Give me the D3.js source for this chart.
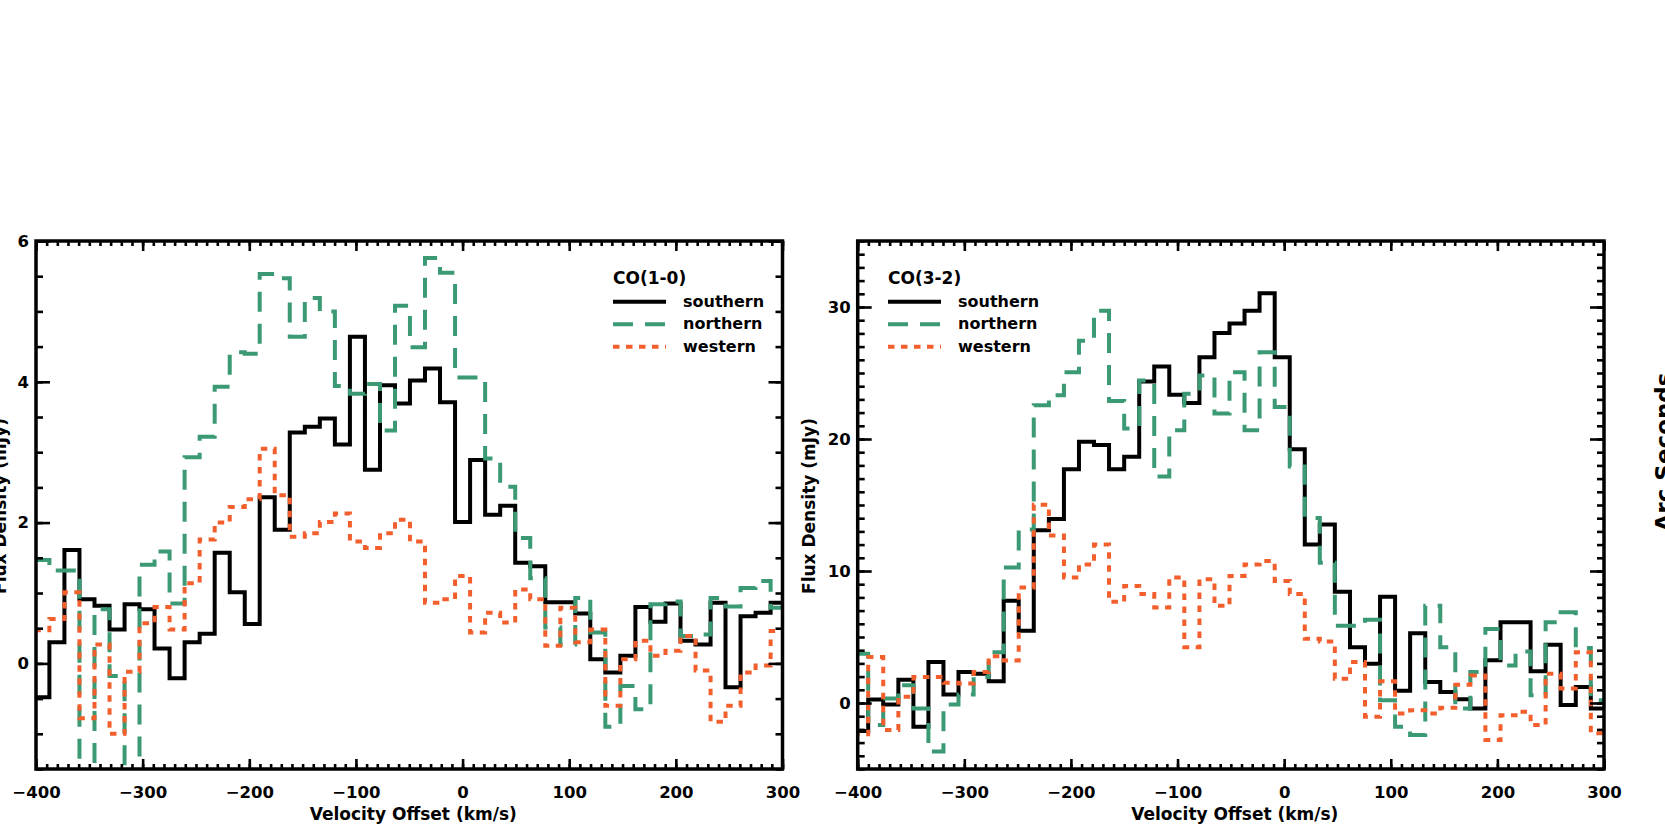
<!DOCTYPE html>
<html><head><meta charset="utf-8">
<script src="https://cdn.jsdelivr.net/npm/d3@7"></script>
<style>
html,body{margin:0;padding:0;background:#fff;}
svg{display:block;background:#fff;}
text{font-family:"DejaVu Sans",sans-serif;font-weight:bold;fill:#000;}
.tick text{font-size:16.5px;}
.legend text{font-size:16px;}
.legend text.ltitle{font-size:17px;}
.atitle{font-size:17px;}
.side{font-size:23px;}
</style></head><body>
<svg id="chart" width="1665" height="831"></svg>
<script>
// ---------- DATA ----------
const seriesNames = ["southern", "northern", "western"];
const panelTitles = ["CO(1-0)", "CO(3-2)"];
const xTicks = [-400, -300, -200, -100, 0, 100, 200, 300];
const yTicksCO10 = [0, 2, 4, 6];
const yTicksCO32 = [0, 10, 20, 30];

// CO(1-0): channel centres (km/s) and flux densities (mJy)
const binWidthCO10 = 14.09;
const velCO10 = [-394.5,-380.4,-366.3,-352.2,-338.1,-324.0,-309.9,-295.9,-281.8,-267.7,
  -253.6,-239.5,-225.4,-211.3,-197.2,-183.2,-169.1,-155.0,-140.9,-126.8,
  -112.7,-98.6,-84.5,-70.4,-56.3,-42.3,-28.2,-14.1,0.0,14.1,
  28.2,42.3,56.4,70.5,84.6,98.7,112.7,126.8,140.9,155.0,
  169.1,183.2,197.3,211.4,225.5,239.6,253.6,267.7,281.8,295.9];
const southernCO10 = [-0.48,0.30,1.61,0.91,0.82,0.48,0.84,0.77,0.21,-0.21,
  0.30,0.42,1.57,1.01,0.56,2.36,1.90,3.28,3.36,3.48,
  3.11,4.64,2.75,3.95,3.69,4.02,4.19,3.71,2.01,2.89,
  2.11,2.24,1.43,1.38,0.87,0.87,0.71,0.06,-0.13,0.11,
  0.80,0.59,0.85,0.32,0.27,0.86,-0.34,0.67,0.72,0.86];
const northernCO10 = [1.47,1.32,1.32,-2.5,0.77,-0.18,-2.5,1.40,1.59,0.85,
  2.93,3.22,3.93,4.42,4.40,5.53,5.47,4.64,5.19,5.00,
  3.94,3.83,3.97,3.31,5.08,4.49,5.76,5.55,4.06,4.06,
  2.91,2.51,1.78,1.21,0.51,0.27,0.93,0.44,-0.90,-0.32,
  -0.65,0.84,0.88,0.39,0.41,0.93,0.81,1.07,1.17,0.79];
const westernCO10 = [0.47,0.63,1.01,-0.78,0.27,-1.0,-0.12,0.57,0.80,0.48,
  1.14,1.76,2.0,2.22,2.33,3.05,2.39,1.80,1.85,2.01,
  2.13,1.73,1.64,1.85,2.04,1.73,0.86,0.91,1.24,0.44,
  0.72,0.58,1.05,0.91,0.25,0.79,0.30,0.48,-0.60,0.06,
  0.32,0.11,0.18,0.39,-0.10,-0.83,-0.60,-0.13,-0.03,0.46];

// CO(3-2): channel centres (km/s) and flux densities (mJy)
const binWidthCO32 = 14.12;
const velCO32 = [-397.2,-383.1,-369.0,-354.8,-340.7,-326.6,-312.5,-298.4,-284.2,-270.1,
  -256.0,-241.9,-227.8,-213.6,-199.5,-185.4,-171.3,-157.2,-143.0,-128.9,
  -114.8,-100.7,-86.6,-72.4,-58.3,-44.2,-30.1,-16.0,-1.8,12.3,
  26.4,40.5,54.6,68.8,82.9,97.0,111.1,125.2,139.4,153.5,
  167.6,181.7,195.8,210.0,224.1,238.2,252.3,266.4,280.6,294.7];
const southernCO32 = [-2.12,0.26,-0.11,1.77,-1.79,3.10,0.64,2.35,2.22,1.64,
  7.74,5.48,13.09,13.94,17.71,19.79,19.54,17.71,18.66,24.36,
  25.49,23.36,22.73,26.19,28.03,28.75,29.71,31.04,26.19,19.22,
  12.01,13.52,8.42,4.23,2.97,8.04,0.92,5.28,1.59,0.84,
  0.29,-0.41,3.23,6.11,6.11,2.40,4.41,-0.16,1.22,-0.41];
const northernCO32 = [3.73,-1.67,0.34,1.34,-0.41,-3.68,-0.11,0.64,1.97,3.85,
  10.26,13.14,22.55,23.31,25.06,27.45,29.71,22.88,20.80,24.43,
  17.15,20.67,23.43,24.81,21.93,25.06,20.67,26.57,22.42,17.91,
  14.02,10.63,5.86,5.86,6.31,0.21,-1.79,-2.42,7.36,4.23,
  -0.41,2.35,5.61,2.85,3.90,0.59,6.11,6.87,4.16,0.21];
const westernCO32 = [-2.37,3.48,-2.05,0.47,1.97,1.97,1.54,1.47,2.35,3.55,
  3.22,8.75,15.02,12.69,9.50,10.50,12.01,7.67,8.87,8.25,
  7.24,9.50,4.23,9.38,7.36,9.62,10.50,10.75,9.25,8.25,
  4.86,4.65,1.84,3.10,-1.04,1.64,-0.79,-0.54,-0.79,-0.36,
  1.39,2.09,-2.8,-0.92,-0.66,-1.67,2.22,1.09,3.85,-2.30];

// ---------- STYLE / LAYOUT ----------
const seriesColors = ["#000000", "#3b9a74", "#f25f2c"];
const seriesDash = [null, "20,12", "6.5,6.5"];
const lineW = 4;
const axisW = 3.5;

const panels = [
  {title: panelTitles[0], vel: velCO10, w: binWidthCO10,
   series: [southernCO10, northernCO10, westernCO10],
   yDomain: [-1.5, 6], yMajor: yTicksCO10, yMinorStep: 0.5,
   box: {l: 36, r: 782.5, t: 241, b: 769}, legendX: 613, yLabelX: 6},
  {title: panelTitles[1], vel: velCO32, w: binWidthCO32,
   series: [southernCO32, northernCO32, westernCO32],
   yDomain: [-5, 35], yMajor: yTicksCO32, yMinorStep: 1,
   box: {l: 857.7, r: 1604, t: 241, b: 769}, legendX: 888, yLabelX: 815}
];

const svg = d3.select("#chart");
svg.append("rect").attr("width", 1665).attr("height", 831).attr("fill", "#fff");

function styleAxis(g) {
  g.attr("font-family", null).attr("font-size", null);
  g.select(".domain").remove();
  g.selectAll(".tick line").attr("stroke", "#000").attr("stroke-width", 2.6);
}

panels.forEach((p, pi) => {
  const B = p.box;
  const x = d3.scaleLinear().domain([-400, 300]).range([B.l, B.r]);
  const y = d3.scaleLinear().domain(p.yDomain).range([B.b, B.t]);
  const g = svg.append("g");

  const clipId = "clip" + pi;
  svg.append("clipPath").attr("id", clipId)
    .append("rect").attr("x", B.l).attr("y", B.t)
    .attr("width", B.r - B.l).attr("height", B.b - B.t);

  // data: histogram-style step lines
  const line = d3.line().x(d => x(d[0])).y(d => y(d[1])).curve(d3.curveStepAfter);
  const dataG = g.append("g").attr("clip-path", `url(#${clipId})`);
  p.series.forEach((vals, si) => {
    const pts = p.vel.map((v, i) => [v - p.w / 2, vals[i]]);
    pts.push([p.vel[p.vel.length - 1] + p.w / 2, vals[vals.length - 1]]);
    dataG.append("path").datum(pts)
      .attr("d", line)
      .attr("fill", "none")
      .attr("stroke", seriesColors[si])
      .attr("stroke-width", lineW)
      .attr("stroke-dasharray", seriesDash[si])
      .attr("stroke-linejoin", "miter");
  });

  // axes
  const xMinor = d3.range(-400, 300.001, 10);
  const yMinor = d3.range(p.yDomain[0], p.yDomain[1] + 1e-9, p.yMinorStep);

  g.append("g").attr("transform", `translate(0,${B.b})`)
    .call(d3.axisBottom(x).tickValues(xMinor).tickSize(-5).tickSizeOuter(0).tickFormat(""))
    .call(styleAxis);
  g.append("g").attr("transform", `translate(0,${B.b})`)
    .call(d3.axisBottom(x).tickValues(xTicks).tickSize(-10).tickSizeOuter(0).tickPadding(17))
    .call(styleAxis);
  g.append("g").attr("transform", `translate(0,${B.t})`)
    .call(d3.axisTop(x).tickValues(xMinor).tickSize(-5).tickSizeOuter(0).tickFormat(""))
    .call(styleAxis);
  g.append("g").attr("transform", `translate(0,${B.t})`)
    .call(d3.axisTop(x).tickValues(xTicks).tickSize(-10).tickSizeOuter(0).tickFormat(""))
    .call(styleAxis);

  g.append("g").attr("transform", `translate(${B.l},0)`)
    .call(d3.axisLeft(y).tickValues(yMinor).tickSize(-7).tickSizeOuter(0).tickFormat(""))
    .call(styleAxis);
  g.append("g").attr("transform", `translate(${B.l},0)`)
    .call(d3.axisLeft(y).tickValues(p.yMajor).tickSize(-14).tickSizeOuter(0).tickPadding(7))
    .call(styleAxis);
  g.append("g").attr("transform", `translate(${B.r},0)`)
    .call(d3.axisRight(y).tickValues(yMinor).tickSize(-7).tickSizeOuter(0).tickFormat(""))
    .call(styleAxis);
  g.append("g").attr("transform", `translate(${B.r},0)`)
    .call(d3.axisRight(y).tickValues(p.yMajor).tickSize(-14).tickSizeOuter(0).tickFormat(""))
    .call(styleAxis);

  // frame
  g.append("rect").attr("x", B.l).attr("y", B.t)
    .attr("width", B.r - B.l).attr("height", B.b - B.t)
    .attr("fill", "none").attr("stroke", "#000").attr("stroke-width", axisW);

  // axis titles
  g.append("text").attr("class", "atitle")
    .attr("x", (B.l + B.r) / 2 + 4).attr("y", 820)
    .attr("text-anchor", "middle").text("Velocity Offset (km/s)");
  g.append("text").attr("class", "atitle")
    .attr("transform", `translate(${p.yLabelX},506) rotate(-90)`)
    .attr("text-anchor", "middle").text("Flux Density (mJy)");

  // legend
  const lg = g.append("g").attr("class", "legend");
  lg.append("text").attr("class", "ltitle").attr("x", p.legendX).attr("y", 284).text(p.title);
  seriesNames.forEach((name, si) => {
    const ly = 301.7 + si * 22.5;
    lg.append("line").attr("x1", p.legendX).attr("x2", p.legendX + 53)
      .attr("y1", ly).attr("y2", ly)
      .attr("stroke", seriesColors[si]).attr("stroke-width", lineW)
      .attr("stroke-dasharray", seriesDash[si]);
    lg.append("text").attr("x", p.legendX + 70).attr("y", ly + 5).text(name);
  });
});

// partially visible label of a neighbouring panel at the right edge
svg.append("text").attr("class", "side")
  .attr("transform", "translate(1672,452) rotate(-90)")
  .attr("text-anchor", "middle").text("Arc Seconds");
</script>
</body></html>
